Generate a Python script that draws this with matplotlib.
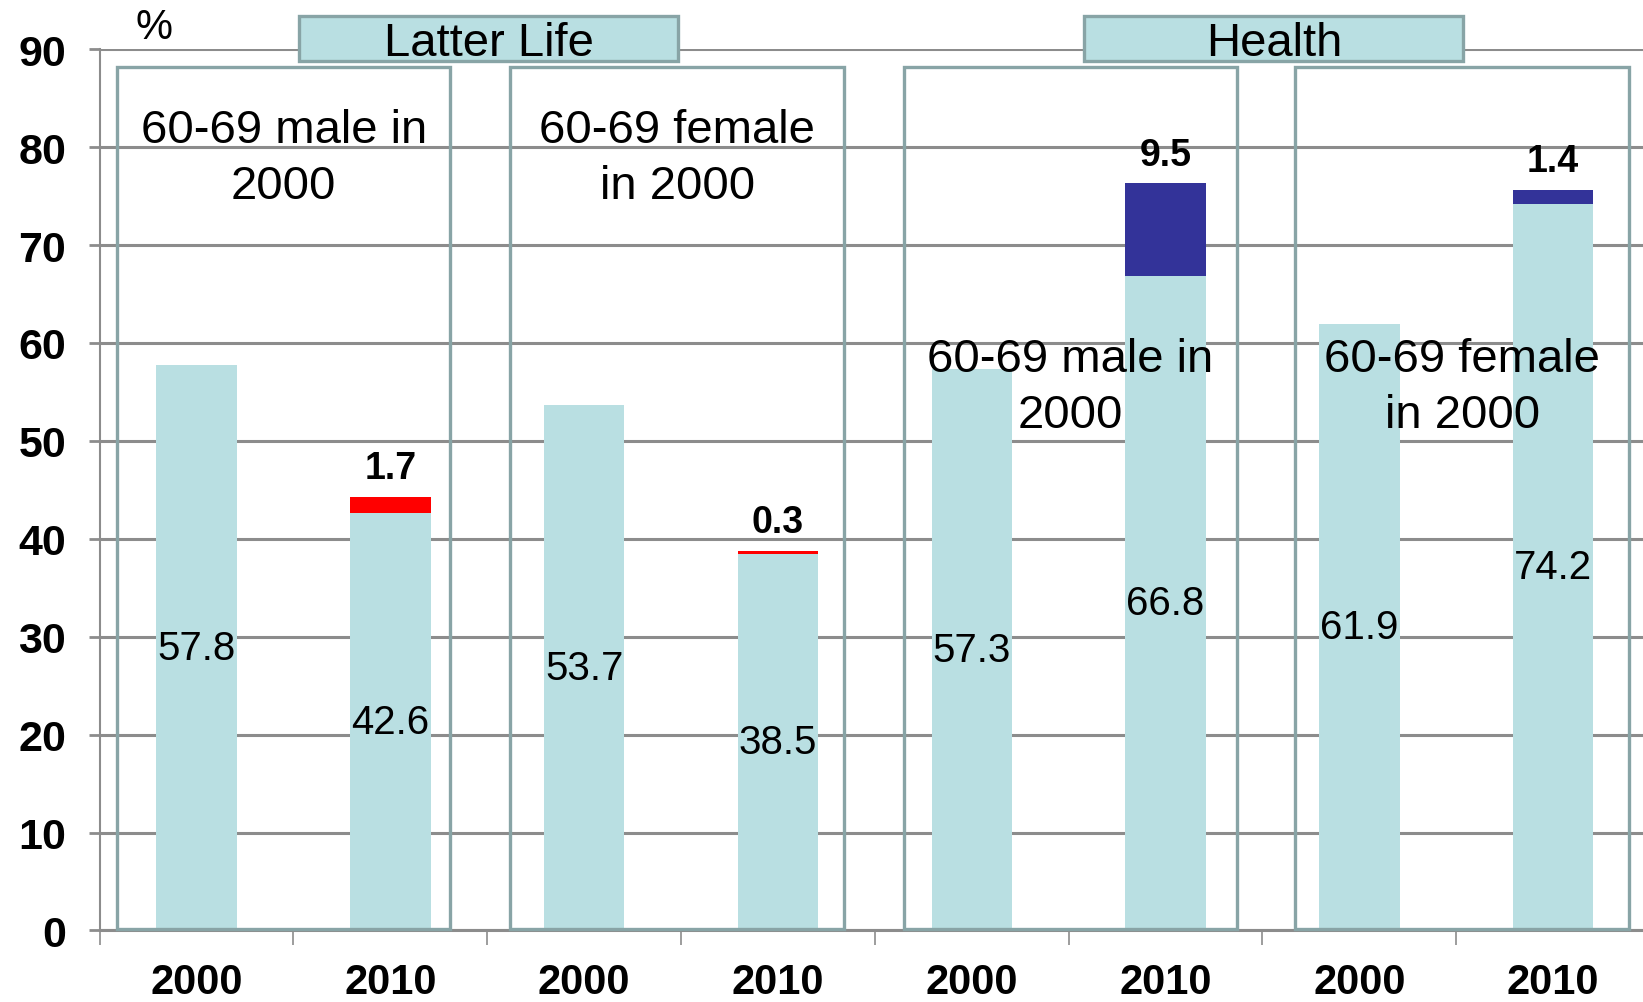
import matplotlib
matplotlib.use("Agg")
import matplotlib.pyplot as plt
import matplotlib.patches as patches

plt.rcParams["font.family"] = ["Liberation Sans", "DejaVu Sans"]

# data
years = ["2000", "2010", "2000", "2010", "2000", "2010", "2000", "2010"]
base_values = [57.8, 42.6, 53.7, 38.5, 57.3, 66.8, 61.9, 74.2]
change_values = [0, 1.7, 0, 0.3, 0, 9.5, 0, 1.4]
change_colors = ["none", "#FF0000", "none", "#FF0000", "none", "#333399", "none", "#333399"]
panel_labels = ["60-69 male in\n2000", "60-69 female\nin 2000", "60-69 male in\n2000", "60-69 female\nin 2000"]
group_labels = ["Latter Life", "Health"]

BAR_COLOR = "#B9DFE2"
FRAME_COLOR = "#88A4A6"
GRID_COLOR = "#8C8C8C"

fig = plt.figure(figsize=(16.43, 10.03), dpi=100)
ax = fig.add_axes([0.0606, 0.0713, 0.9437, 0.8786])

x = list(range(len(years)))
ax.bar(x, base_values, width=0.415, color=BAR_COLOR, zorder=2)
ax.bar(x, change_values, bottom=base_values, width=0.415, color=change_colors, zorder=2)

for i in x:
    ax.text(i, base_values[i] / 2, f"{base_values[i]:.1f}", ha="center", va="center",
            fontsize=29, zorder=6)
    if change_values[i]:
        ax.text(i, base_values[i] + change_values[i] + 1.1, f"{change_values[i]:.1f}",
                ha="center", va="bottom", fontsize=27, fontweight="bold", zorder=6)

# panel frames with their labels
panel_left = [-0.41, 1.62, 3.65, 5.67]
panel_label_y = [78.9, 78.9, 55.5, 55.5]
for k, left in enumerate(panel_left):
    ax.add_patch(patches.Rectangle((left, 0.2), 1.72, 88.0, fill=False,
                                   edgecolor=FRAME_COLOR, linewidth=2.4, zorder=4,
                                   clip_on=False))
    ax.text(left + 0.86, panel_label_y[k], panel_labels[k], ha="center", va="center",
            fontsize=34, linespacing=1.36, zorder=6)

# group header boxes
header_left = [0.53, 4.58]
for k, left in enumerate(header_left):
    ax.add_patch(patches.Rectangle((left, 88.8), 1.955, 4.6, facecolor=BAR_COLOR,
                                   edgecolor=FRAME_COLOR, linewidth=2.4, zorder=5,
                                   clip_on=False))
    ax.text(left + 0.98, 90.6, group_labels[k], ha="center", va="center",
            fontsize=34, zorder=6, clip_on=False)

ax.set_xlim(-0.5, 7.5)
ax.set_ylim(0, 90)
ax.set_yticks(range(0, 91, 10))
ax.set_xticks(x)
ax.set_xticklabels(years, fontsize=30, fontweight="bold")
ax.set_xticks([i - 0.5 for i in range(len(years) + 1)], minor=True)
ax.tick_params(axis="x", which="major", length=0, pad=23)
ax.tick_params(axis="x", which="minor", length=11, width=1.2, color=GRID_COLOR)
ax.tick_params(axis="y", length=8, width=2, color=GRID_COLOR, pad=16,
               labelsize=31)
for lbl in ax.get_yticklabels():
    lbl.set_fontweight("bold")

ax.grid(axis="y", color=GRID_COLOR, linewidth=2.2, zorder=0)
ax.set_axisbelow(True)
for side in ["top", "right"]:
    ax.spines[side].set_visible(False)
ax.spines["left"].set_color(GRID_COLOR)
ax.spines["left"].set_linewidth(1.5)
ax.spines["bottom"].set_color(GRID_COLOR)
ax.spines["bottom"].set_linewidth(2.2)

fig.text(0.094, 0.972, "%", fontsize=30, ha="center", va="center")

fig.savefig("out.png", dpi=100)
